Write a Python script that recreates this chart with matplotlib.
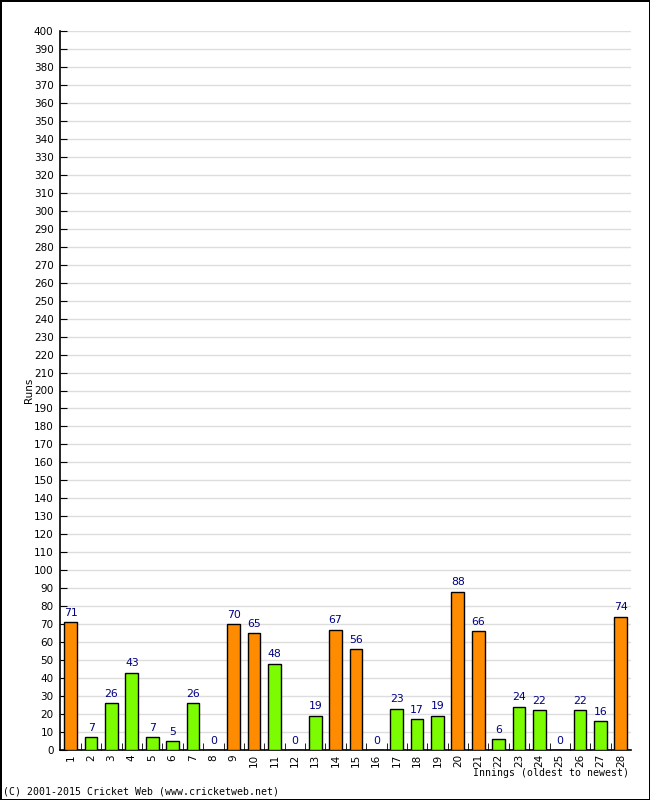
"""Batting innings chart."""

import matplotlib
matplotlib.use('Agg')
import matplotlib.pyplot as pyplot

# innings data
innings = list(range(1, 29))
runs = [71, 7, 26, 43, 7, 5, 26, 0, 70, 65, 48, 0, 19, 67, 56, 0,
        23, 17, 19, 88, 66, 6, 24, 22, 0, 22, 16, 74]
orange_innings = [1, 9, 10, 14, 15, 20, 21, 28]
y_ticks = list(range(0, 401, 10))

if __name__ == '__main__':
  figure = pyplot.figure(figsize=(6.5, 8), dpi=100)
  figure.patch.set_edgecolor('black')
  figure.patch.set_linewidth(2)
  axes = figure.add_axes([60.5 / 650, 50 / 800, 570.5 / 650, 719 / 800])

  colors = ['#ff8c00' if i in orange_innings else '#7cfc00' for i in innings]
  axes.bar(innings, runs, width=0.62, color=colors, edgecolor='black',
           linewidth=1, zorder=3)
  for x, r in zip(innings, runs):
    axes.text(x, r + 2.5, str(r), ha='center', va='bottom', color='#000080',
              fontsize=7.8)

  # format
  axes.set_xlim(0.5, 28.5)
  axes.set_ylim(0, 400)
  axes.set_yticks(y_ticks)
  axes.set_xticks(innings)
  axes.set_xticklabels([str(i) for i in innings], rotation=90)
  axes.set_xticks([i + 0.5 for i in innings[:-1]], minor=True)
  axes.tick_params(axis='x', which='major', length=0, labelsize=7.5, pad=3)
  axes.tick_params(axis='x', which='minor', length=5, direction='in')
  axes.tick_params(axis='y', length=5, direction='in', labelsize=7.5, pad=5)
  axes.yaxis.grid(True, color='#dddddd', linewidth=1, zorder=0)
  axes.set_axisbelow(True)
  for side in ['top', 'right']:
    axes.spines[side].set_visible(False)
  axes.spines['left'].set_linewidth(1.2)
  axes.spines['bottom'].set_linewidth(1.2)

  figure.text(29 / 650, 1 - 390 / 800, 'Runs', rotation=90, ha='center',
              va='center', fontsize=7.5)
  figure.text(629 / 650, 1 - 773 / 800, 'Innings (oldest to newest)',
              ha='right', va='center', fontsize=7.1, family='DejaVu Sans Mono')
  figure.text(3 / 650, 1 - 792 / 800, '(C) 2001-2015 Cricket Web (www.cricketweb.net)',
              ha='left', va='center', fontsize=7.1, family='DejaVu Sans Mono')

  figure.savefig('out.png', dpi=100, edgecolor='black')
